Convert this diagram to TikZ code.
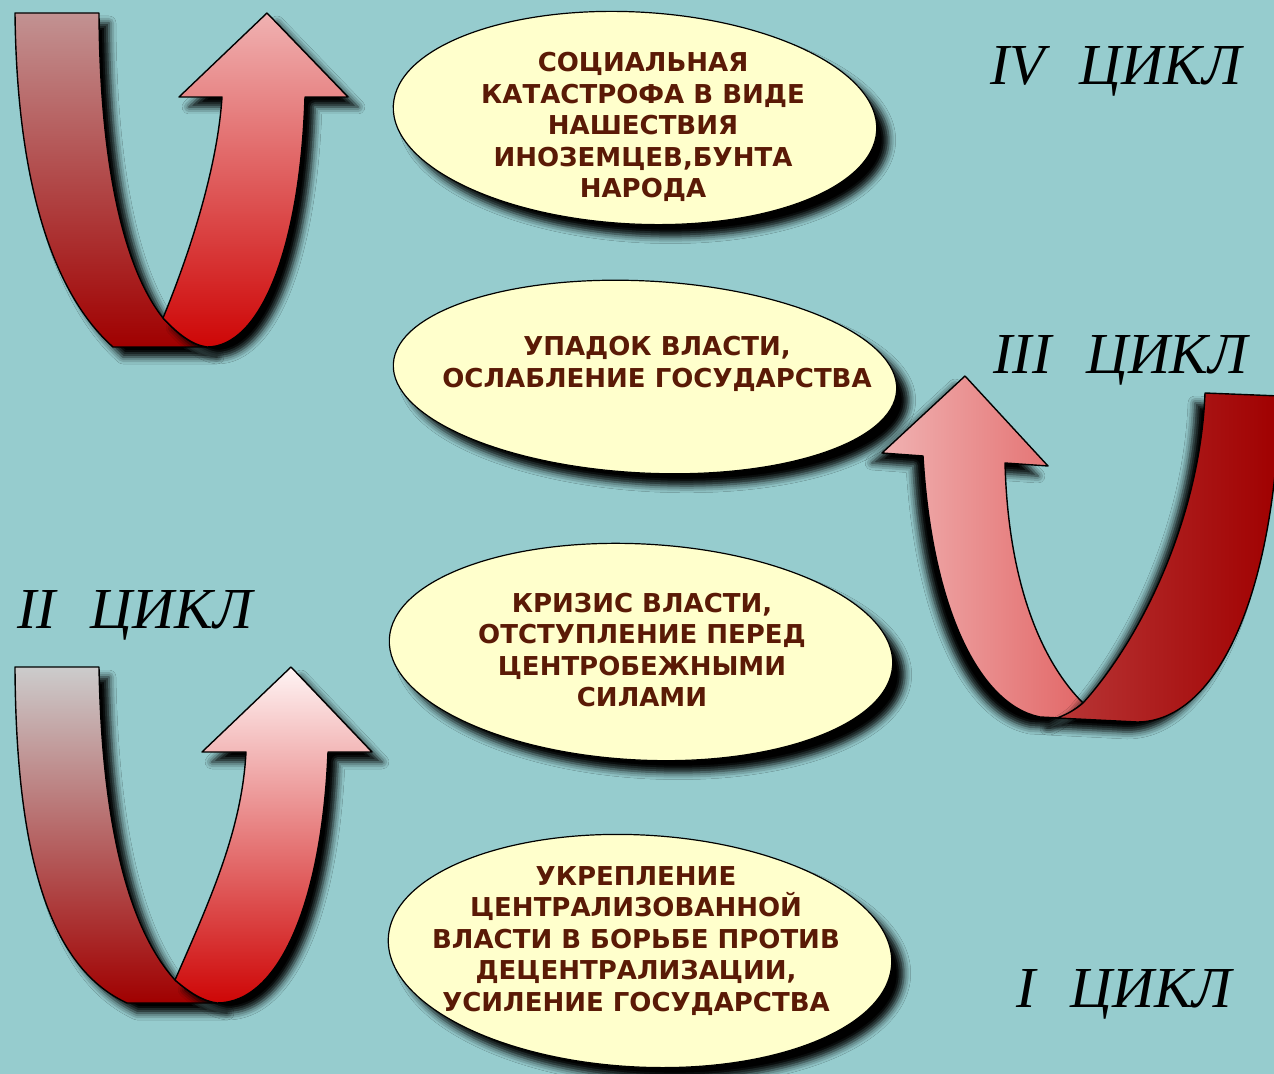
\documentclass[tikz,border=0pt]{standalone}
\usepackage{fontspec}
\setmainfont{Liberation Serif}
\newfontfamily\stagefont{DejaVu Sans}
\usetikzlibrary{shadows.blur}

\definecolor{bgteal}{RGB}{150,204,206}
\definecolor{stagefill}{RGB}{255,255,204}
\definecolor{stagetext}{RGB}{90,26,6}
\definecolor{tailrose}{RGB}{194,146,146}
\definecolor{tailgray}{RGB}{204,204,204}
\definecolor{taildark}{RGB}{160,0,0}
\definecolor{headpink}{RGB}{240,178,178}
\definecolor{headwhite}{RGB}{255,244,244}
\definecolor{headred}{RGB}{206,6,6}
\definecolor{headsalmon}{RGB}{226,104,104}
\definecolor{tailbrick}{RGB}{184,54,54}

\tikzset{
  stage/.style={font=\stagefont\bfseries\fontsize{13}{15.75}\selectfont,
    text=stagetext, align=center, inner sep=0pt},
  stageshape/.style={fill=stagefill, draw=black, line width=0.6pt,
    blur shadow={shadow xshift=6pt, shadow yshift=-6pt,
      shadow blur radius=3.5pt, shadow opacity=100}},
  ribbon/.style={draw=black, line width=0.7pt, line join=round},
  shadowright/.style={blur shadow={shadow xshift=5pt, shadow yshift=-5pt,
      shadow blur radius=3.5pt, shadow opacity=100}},
  shadowleft/.style={blur shadow={shadow xshift=-5pt, shadow yshift=-5pt,
      shadow blur radius=3.5pt, shadow opacity=100}},
  cyclelabel/.style={font=\itshape\fontsize{29}{32}\selectfont,
    anchor=base west, inner sep=0pt}
}
\newcommand{\cyclegap}{\hspace{0.6em}}

\begin{document}
\begin{tikzpicture}[x=0.5pt, y=-0.5pt]
  \useasboundingbox (0,0) rectangle (1274,1074);
  \fill[bgteal] (0,0) rectangle (1274,1074);
  \clip (0,0) rectangle (1274,1074);

  % stages
  \path[stageshape, rotate around={-3:(635,118)}] (635,118) ellipse [x radius=121pt, y radius=53pt];
  \path[stageshape, rotate around={-3:(645,377)}] (645,377) ellipse [x radius=126pt, y radius=48pt];
  \path[stageshape, rotate around={-3:(641,652)}] (641,652) ellipse [x radius=126pt, y radius=54pt];
  \path[stageshape, rotate around={-3:(640,951)}] (640,951) ellipse [x radius=126pt, y radius=58pt];

  \node[stage] (catastrophe) at (643,127) {СОЦИАЛЬНАЯ\\КАТАСТРОФА В ВИДЕ\\НАШЕСТВИЯ\\ИНОЗЕМЦЕВ,БУНТА\\НАРОДА};
  \node[stage] (decline) at (657,364) {УПАДОК ВЛАСТИ,\\ОСЛАБЛЕНИЕ ГОСУДАРСТВА};
  \node[stage] (crisis) at (642,650) {КРИЗИС ВЛАСТИ,\\ОТСТУПЛЕНИЕ ПЕРЕД\\ЦЕНТРОБЕЖНЫМИ\\СИЛАМИ};
  \node[stage] (strengthening) at (636,941) {УКРЕПЛЕНИЕ\\ЦЕНТРАЛИЗОВАННОЙ\\ВЛАСТИ В БОРЬБЕ ПРОТИВ\\ДЕЦЕНТРАЛИЗАЦИИ,\\УСИЛЕНИЕ ГОСУДАРСТВА};

  % upper left arrow
  \path[ribbon, shadowright, top color=tailrose, bottom color=taildark]
    (15,13) -- (99,13) .. controls (100,170) and (125,270) .. (163,318)
    .. controls (178,334) and (192,345) .. (207,347) -- (113,347)
    .. controls (60,300) and (17,200) .. (15,13) -- cycle;
  \path[ribbon, shadowright, top color=headpink, bottom color=headred]
    (163,318) .. controls (195,240) and (218,160) .. (222,97)
    -- (179,97) -- (267,13) -- (348,97) -- (305,97)
    .. controls (300,250) and (260,347) .. (207,347)
    .. controls (192,345) and (178,334) .. (163,318) -- cycle;

  % lower left arrow
  \path[ribbon, shadowright, top color=tailgray, bottom color=taildark]
    (15,667) -- (99,667) .. controls (102,830) and (130,930) .. (175,980)
    .. controls (190,993) and (203,1001) .. (217,1003) -- (127,1003)
    .. controls (55,970) and (16,870) .. (15,667) -- cycle;
  \path[ribbon, shadowright, top color=headwhite, bottom color=headred]
    (175,980) .. controls (210,900) and (242,830) .. (246,752)
    -- (202,752) -- (291,667) -- (372,752) -- (328,752)
    .. controls (322,900) and (280,1003) .. (217,1003)
    .. controls (203,1001) and (190,993) .. (175,980) -- cycle;

  % right arrow
  \path[ribbon, shadowleft, left color=headpink, right color=headsalmon]
    (1083,703) .. controls (1040,660) and (1008,580) .. (1005,463)
    -- (1048,466) -- (965,376) -- (882,453) -- (923,456)
    .. controls (932,610) and (980,705) .. (1040,717) -- (1060,718)
    .. controls (1068,714) and (1076,709) .. (1083,703) -- cycle;
  \path[ribbon, shadowleft, left color=tailbrick, right color=taildark]
    (1205,393) -- (1280,396) .. controls (1275,600) and (1215,722) .. (1137,722)
    -- (1057,718) .. controls (1068,714) and (1076,709) .. (1083,703)
    .. controls (1140,640) and (1200,520) .. (1205,393) -- cycle;

  % cycles
  \node[cyclelabel] (cycleIV) at (990,85) {IV\cyclegap ЦИКЛ};
  \node[cyclelabel] (cycleIII) at (993,374) {III\cyclegap ЦИКЛ};
  \node[cyclelabel] (cycleII) at (17,628) {II\cyclegap ЦИКЛ};
  \node[cyclelabel] (cycleI) at (1016,1007) {I\cyclegap ЦИКЛ};
\end{tikzpicture}
\end{document}
